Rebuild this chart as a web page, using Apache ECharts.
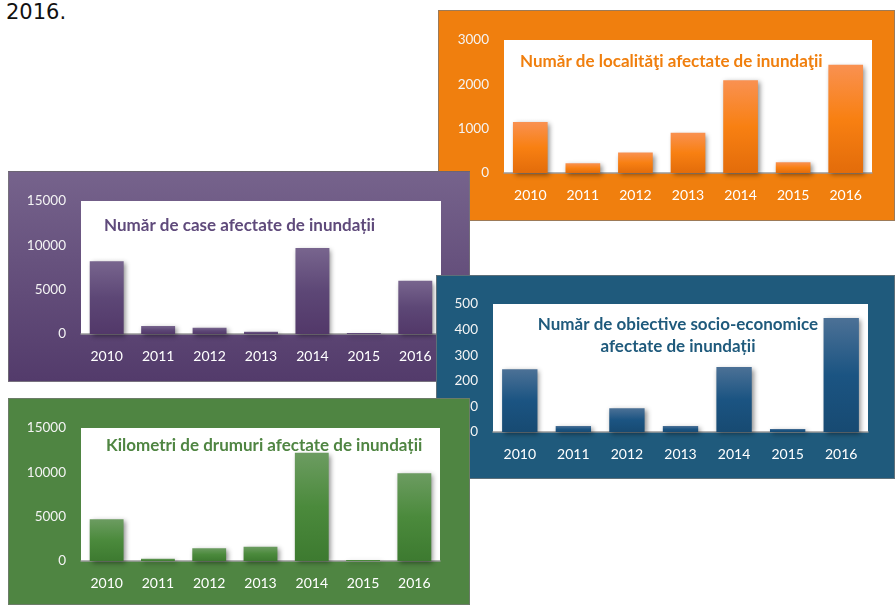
<!DOCTYPE html>
<html>
<head>
<meta charset="utf-8">
<script src="https://cdn.jsdelivr.net/npm/echarts@6/dist/echarts.min.js"></script>
<style>
  html, body { margin: 0; padding: 0; background: #fff; }
  body { width: 895px; height: 605px; position: relative; overflow: hidden; }
  .lead { position: absolute; left: 6px; top: 0px; font: 21px "DejaVu Sans", sans-serif; color: #111; }
  .panel { position: absolute; box-sizing: border-box; border: 1px solid rgba(120,120,120,0.7); }
</style>
</head>
<body>
<div class="lead">2016.</div>
<div id="orange" class="panel" style="left:438px;top:10px;width:457px;height:211px;background:#f07f0e;z-index:1"></div>
<div id="purple" class="panel" style="left:8px;top:171px;width:462px;height:211px;background:linear-gradient(#76638c,#533b6b);z-index:2"></div>
<div id="blue" class="panel" style="left:436px;top:275px;width:459px;height:204px;background:#1f5a7c;z-index:3"></div>
<div id="green" class="panel" style="left:8px;top:398px;width:462px;height:207px;background:#4f8542;z-index:4"></div>
<script>
const years = ['2010', '2011', '2012', '2013', '2014', '2015', '2016']
const localitati = [1150, 220, 460, 910, 2090, 240, 2440]
const caseAfectate = [8200, 900, 700, 250, 9700, 100, 6000]
const obiective = [245, 23, 93, 23, 254, 12, 445]
const drumuri = [4700, 250, 1450, 1600, 12200, 120, 9900]

const makePanel = (id, cfg) => {
  const chart = echarts.init(document.getElementById(id))
  chart.setOption({
    backgroundColor: 'transparent',
    animation: false,
    title: {
      text: cfg.title,
      left: cfg.titleX,
      top: cfg.titleY,
      textAlign: cfg.titleAlign || 'left',
      padding: 0,
      textStyle: {
        color: cfg.titleColor,
        fontFamily: 'Lato',
        fontWeight: 'bold',
        fontSize: 17,
        lineHeight: 22
      }
    },
    grid: {
      left: cfg.grid[0], top: cfg.grid[1], right: cfg.grid[2], bottom: cfg.grid[3],
      show: true, backgroundColor: '#fff', borderWidth: 0
    },
    xAxis: {
      type: 'category',
      data: years,
      axisLine: { lineStyle: { color: '#9a9a9a', width: 1.5 } },
      axisTick: { show: false },
      axisLabel: { color: '#fff', fontFamily: 'Lato', fontSize: 14, margin: 15 }
    },
    yAxis: {
      type: 'value',
      min: 0,
      max: cfg.max,
      interval: cfg.interval,
      splitLine: { show: false },
      axisLine: { show: false },
      axisLabel: { color: '#f4f4f4', fontFamily: 'Lato', fontSize: 13.5, margin: 15, formatter: v => String(v) }
    },
    series: [{
      type: 'bar',
      data: cfg.data,
      barCategoryGap: '34%',
      itemStyle: {
        color: new echarts.graphic.LinearGradient(0, 0, 0, 1, [
          { offset: 0, color: cfg.bar[0] },
          { offset: 0.5, color: cfg.bar[1] },
          { offset: 1, color: cfg.bar[2] }
        ]),
        shadowBlur: 5,
        shadowColor: 'rgba(0,0,0,0.45)',
        shadowOffsetX: 2,
        shadowOffsetY: 2
      }
    }]
  })
}

makePanel('orange', {
  title: 'Număr de localităţi afectate de inundaţii',
  titleX: 81, titleY: 40, titleColor: '#f07f0e',
  grid: [65, 29, 22, 47], max: 3000, interval: 1000,
  data: localitati, bar: ['#f99151', '#f88012', '#e36c0a']
})
makePanel('purple', {
  title: 'Număr de case afectate de inundații',
  titleX: 95, titleY: 43, titleColor: '#5f4a7b',
  grid: [72, 29, 28, 47], max: 15000, interval: 5000,
  data: caseAfectate, bar: ['#78658e', '#5d4776', '#523869']
})
makePanel('blue', {
  title: 'Număr de obiective socio-economice\nafectate de inundații',
  titleX: 241, titleY: 38, titleAlign: 'center', titleColor: '#1f5a7c',
  grid: [56, 28, 26, 46], max: 500, interval: 100,
  data: obiective, bar: ['#4c7196', '#1b5482', '#174a72']
})
makePanel('green', {
  title: 'Kilometri de drumuri afectate de inundații',
  titleX: 97, titleY: 36, titleColor: '#4f8542',
  grid: [72, 29, 29, 43], max: 15000, interval: 5000,
  data: drumuri, bar: ['#6c9c61', '#4b8a3c', '#3d7a30']
})
</script>
</body>
</html>
